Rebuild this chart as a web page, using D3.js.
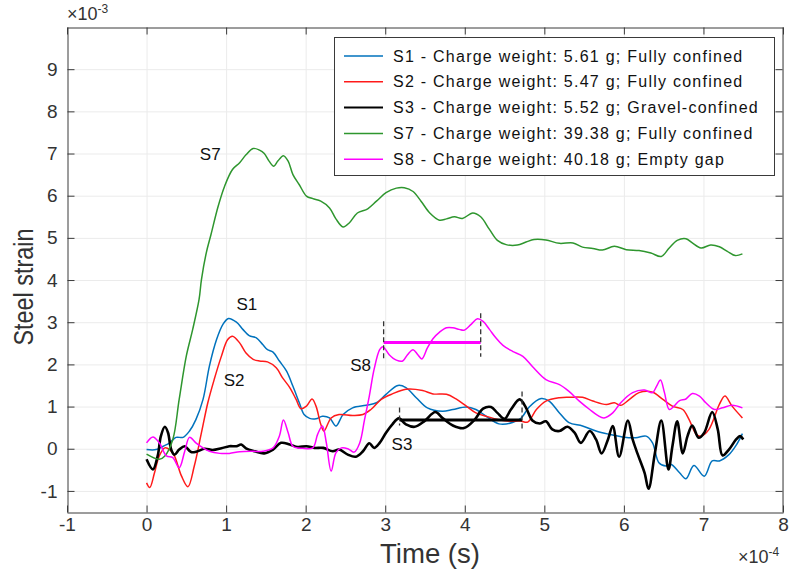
<!DOCTYPE html>
<html>
<head>
<meta charset="utf-8">
<script src="https://cdn.jsdelivr.net/npm/d3@7"></script>
<style>
  html, body { margin: 0; padding: 0; background: #fff; }
  svg { display: block; font-family: "Liberation Sans", Arial, sans-serif; }
</style>
</head>
<body>
<svg id="chart" width="790" height="574"></svg>
<script>
// Time in units of 1e-4 s, strain in units of 1e-3
const xTicks = [-1, 0, 1, 2, 3, 4, 5, 6, 7, 8];
const yTicks = [-1, 0, 1, 2, 3, 4, 5, 6, 7, 8, 9];

const s1 = [[0,-0.02],[0.12,-0.02],[0.21,0.06],[0.29,0.14],[0.37,0.27],[0.46,0.27],[0.54,0.42],[0.62,0.69],[0.71,1.17],[0.79,1.96],[0.88,2.59],[0.96,2.95],[1.03,3.09],[1.13,3.0],[1.21,2.83],[1.29,2.68],[1.38,2.63],[1.46,2.47],[1.52,2.35],[1.59,2.29],[1.67,2.08],[1.76,1.84],[1.84,1.48],[1.92,1.09],[1.98,0.81],[2.05,0.72],[2.13,0.71],[2.21,0.77],[2.30,0.73],[2.38,0.54],[2.47,0.81],[2.59,0.97],[2.76,1.03],[2.89,1.09],[3.01,1.29],[3.16,1.50],[3.26,1.45],[3.39,1.21],[3.53,0.97],[3.72,0.89],[3.85,0.93],[4.02,0.99],[4.14,0.93],[4.27,0.77],[4.43,0.59],[4.60,0.62],[4.71,0.73],[4.81,0.99],[4.96,1.19],[5.06,1.13],[5.19,0.85],[5.31,0.62],[5.48,0.54],[5.65,0.42],[5.82,0.34],[5.98,0.28],[6.15,0.26],[6.28,0.30],[6.36,0.14],[6.44,-0.33],[6.53,-0.41],[6.59,-0.37],[6.70,-0.57],[6.78,-0.71],[6.88,-0.40],[7.01,-0.65],[7.11,-0.29],[7.20,-0.29],[7.32,-0.14],[7.41,0.08],[7.49,0.36]];

const s2 = [[0,-0.81],[0.04,-0.92],[0.10,-0.57],[0.16,-0.17],[0.23,0.02],[0.29,-0.02],[0.35,-0.17],[0.44,-0.65],[0.52,-0.90],[0.60,-0.41],[0.69,0.38],[0.77,1.09],[0.85,1.64],[0.94,2.19],[1.02,2.59],[1.08,2.67],[1.17,2.51],[1.25,2.27],[1.34,2.12],[1.42,2.08],[1.52,2.06],[1.63,1.92],[1.71,1.68],[1.80,1.45],[1.88,1.17],[1.94,0.95],[2.01,1.01],[2.08,1.18],[2.13,1.01],[2.19,0.58],[2.23,0.42],[2.32,0.73],[2.42,0.81],[2.59,0.79],[2.72,0.81],[2.82,0.93],[2.95,1.17],[3.09,1.30],[3.26,1.41],[3.47,1.38],[3.60,1.30],[3.77,1.29],[3.89,1.18],[4.02,1.01],[4.14,0.85],[4.27,0.77],[4.43,0.69],[4.60,0.65],[4.70,0.66],[4.79,0.63],[4.90,0.93],[5.02,1.13],[5.19,1.21],[5.31,1.22],[5.48,1.22],[5.61,1.13],[5.78,1.05],[5.88,1.09],[5.96,1.03],[6.07,1.17],[6.19,1.33],[6.36,1.34],[6.49,1.17],[6.61,1.01],[6.74,0.93],[6.82,0.69],[6.91,0.34],[6.97,0.30],[7.07,0.46],[7.20,1.05],[7.27,1.25],[7.36,1.01],[7.49,0.73]];

const s3 = [[0,-0.25],[0.08,-0.49],[0.14,-0.17],[0.18,0.30],[0.23,0.52],[0.27,0.38],[0.31,-0.02],[0.35,-0.14],[0.41,-0.02],[0.48,0.06],[0.56,-0.08],[0.64,-0.06],[0.73,0],[0.83,-0.03],[0.94,0.01],[1.04,0.06],[1.13,0.06],[1.19,0.10],[1.25,0.01],[1.36,-0.06],[1.48,-0.11],[1.59,-0.02],[1.69,0.14],[1.80,0.10],[1.90,0.04],[2.01,0.06],[2.11,0.02],[2.22,0.02],[2.34,-0.06],[2.42,-0.02],[2.53,-0.14],[2.63,-0.19],[2.72,-0.06],[2.80,0.13],[2.86,0.02],[2.93,0.14],[3.01,0.38],[3.09,0.58],[3.17,0.72],[3.26,0.58],[3.37,0.52],[3.49,0.65],[3.63,0.87],[3.72,0.73],[3.85,0.55],[3.99,0.49],[4.12,0.68],[4.23,0.95],[4.33,0.99],[4.41,0.85],[4.50,0.71],[4.58,0.93],[4.69,1.17],[4.77,0.97],[4.85,0.67],[4.94,0.60],[5.02,0.65],[5.10,0.46],[5.19,0.42],[5.29,0.52],[5.38,0.38],[5.46,0.14],[5.57,0.42],[5.65,0.22],[5.72,-0.11],[5.80,0.22],[5.86,0.54],[5.94,-0.19],[6.05,0.67],[6.11,0.22],[6.17,-0.11],[6.26,-0.57],[6.31,-0.95],[6.39,-0.10],[6.47,0.67],[6.56,-0.49],[6.61,0.06],[6.67,0.65],[6.74,-0.11],[6.80,0.30],[6.86,0.55],[6.94,0.26],[7.01,0.38],[7.11,0.87],[7.18,0.46],[7.24,-0.16],[7.32,-0.02],[7.41,0.22],[7.46,0.30],[7.50,0.22]];

const s7 = [[0,-0.13],[0.16,-0.25],[0.23,-0.17],[0.33,0.22],[0.41,1.17],[0.5,2.2],[0.58,2.83],[0.66,3.54],[0.69,4.01],[0.75,4.64],[0.81,5.08],[0.90,5.75],[0.98,6.22],[1.08,6.62],[1.17,6.78],[1.25,6.97],[1.34,7.12],[1.42,7.08],[1.48,7.0],[1.54,6.82],[1.60,6.70],[1.65,6.82],[1.72,6.95],[1.78,6.82],[1.84,6.5],[1.92,6.26],[2.01,5.99],[2.09,5.93],[2.19,5.87],[2.30,5.71],[2.38,5.45],[2.47,5.26],[2.55,5.36],[2.65,5.59],[2.78,5.69],[2.89,5.87],[3.01,6.07],[3.14,6.18],[3.24,6.19],[3.35,6.10],[3.45,5.87],[3.56,5.59],[3.68,5.42],[3.77,5.45],[3.87,5.50],[3.97,5.46],[4.10,5.59],[4.20,5.50],[4.31,5.20],[4.41,4.94],[4.52,4.84],[4.66,4.83],[4.77,4.90],[4.87,4.96],[5.02,4.95],[5.19,4.87],[5.36,4.88],[5.48,4.78],[5.61,4.75],[5.73,4.71],[5.88,4.80],[6.03,4.72],[6.19,4.70],[6.34,4.64],[6.47,4.56],[6.57,4.76],[6.67,4.94],[6.78,4.98],[6.86,4.88],[6.97,4.76],[7.09,4.83],[7.20,4.79],[7.30,4.68],[7.40,4.58],[7.49,4.62]];

const s8 = [[0,0.14],[0.08,0.28],[0.16,0.14],[0.25,-0.17],[0.33,-0.21],[0.41,-0.45],[0.48,-0.06],[0.54,0.27],[0.62,0.14],[0.71,0.02],[0.79,-0.06],[0.92,-0.11],[1.04,-0.11],[1.17,-0.07],[1.34,-0.06],[1.46,-0.06],[1.59,0.02],[1.67,0.30],[1.72,0.68],[1.78,0.38],[1.84,0.06],[1.96,0.01],[2.09,0.02],[2.15,0.34],[2.21,0.54],[2.26,0.14],[2.32,-0.53],[2.38,-0.1],[2.45,0.02],[2.53,0],[2.61,-0.08],[2.68,0.14],[2.74,0.69],[2.80,1.25],[2.86,1.88],[2.93,2.35],[2.97,2.42],[3.05,2.23],[3.14,2.10],[3.22,2.08],[3.28,2.23],[3.35,2.35],[3.41,2.23],[3.46,2.13],[3.53,2.39],[3.60,2.61],[3.68,2.76],[3.77,2.87],[3.85,2.87],[3.93,2.83],[3.99,2.81],[4.08,2.95],[4.16,3.08],[4.23,3.02],[4.31,2.83],[4.39,2.63],[4.48,2.45],[4.60,2.31],[4.73,2.19],[4.85,1.95],[5.02,1.64],[5.19,1.52],[5.31,1.36],[5.44,1.13],[5.57,0.93],[5.67,0.79],[5.75,0.73],[5.86,0.85],[5.96,1.09],[6.11,1.33],[6.26,1.39],[6.36,1.33],[6.41,1.48],[6.46,1.63],[6.51,1.33],[6.57,0.93],[6.63,1.01],[6.70,1.14],[6.78,1.18],[6.86,1.31],[6.95,1.25],[7.03,1.09],[7.14,0.93],[7.24,0.97],[7.36,1.03],[7.49,0.97]];

const seriesNames = [
  "S1 - Charge weight: 5.61 g; Fully confined",
  "S2 - Charge weight: 5.47 g; Fully confined",
  "S3 - Charge weight: 5.52 g; Gravel-confined",
  "S7 - Charge weight: 39.38 g; Fully confined",
  "S8 - Charge weight: 40.18 g; Empty gap"
];
const seriesColors = ["#0072BD", "#FF1A1A", "#000000", "#2E962E", "#FF00FF"];
const seriesWidths = [1.5, 1.5, 2.6, 1.5, 1.5];
const seriesData = [s1, s2, s3, s7, s8];

// Plateau spans: start, end, level
const plateaus = [
  { color: "#FF00FF", from: 2.98, to: 4.20, level: 2.52 },
  { color: "#000000", from: 3.18, to: 4.72, level: 0.68 }
];
// Dashed markers: [time, low, high]
const markers = [[2.98, 2.09, 3.02], [4.20, 2.18, 3.21], [3.18, 0.55, 0.98], [4.72, 0.41, 1.36]];
// Curve tags: [text, time, strain]
const tags = [["S7", 0.67, 6.84], ["S1", 1.13, 3.29], ["S2", 0.97, 1.49], ["S8", 2.56, 1.84], ["S3", 3.08, -0.03]];

const svg = d3.select("#chart");
const W = 790, H = 574;
const margin = { left: 67, right: 7, top: 27, bottom: 62 };
const x = d3.scaleLinear().domain([-1, 8]).range([margin.left, W - margin.right]);
const y = d3.scaleLinear().domain([-1.5, 10]).range([H - margin.bottom, margin.top]);
const axisColor = "#3a3a3a";
const tickLen = 7;
const plainFormat = d => String(d);

svg.append("rect").attr("x", 0).attr("y", 0).attr("width", W).attr("height", H).attr("fill", "#fff");

// grid
const grid = svg.append("g").attr("stroke", "#ebebeb").attr("stroke-width", 1);
grid.selectAll("line.gx").data(xTicks.slice(1)).join("line")
  .attr("x1", d => x(d) + 0.5).attr("x2", d => x(d) + 0.5)
  .attr("y1", y.range()[1]).attr("y2", y.range()[0]);
grid.selectAll("line.gy").data(yTicks).join("line")
  .attr("y1", d => y(d) + 0.5).attr("y2", d => y(d) + 0.5)
  .attr("x1", x.range()[0]).attr("x2", x.range()[1]);

// axes (inward ticks, mirrored on top and right)
const gx = svg.append("g").attr("transform", `translate(0,${y.range()[0] + 0.5})`)
  .call(d3.axisBottom(x).tickValues(xTicks).tickFormat(plainFormat).tickSize(-tickLen).tickPadding(5).tickSizeOuter(0));
const gy = svg.append("g").attr("transform", `translate(${x.range()[0] + 0.5},0)`)
  .call(d3.axisLeft(y).tickValues(yTicks).tickFormat(plainFormat).tickSize(-tickLen).tickPadding(10).tickSizeOuter(0));
const gxt = svg.append("g").attr("transform", `translate(0,${y.range()[1] + 0.5})`)
  .call(d3.axisTop(x).tickValues(xTicks).tickSize(-tickLen).tickFormat("").tickSizeOuter(0));
const gyr = svg.append("g").attr("transform", `translate(${x.range()[1] - 0.5},0)`)
  .call(d3.axisRight(y).tickValues(yTicks).tickSize(-tickLen).tickFormat("").tickSizeOuter(0));
[gx, gy, gxt, gyr].forEach(g => {
  g.select(".domain").attr("stroke", axisColor);
  g.selectAll(".tick line").attr("stroke", axisColor);
  g.selectAll(".tick text").attr("fill", "#333").attr("font-size", 19)
    .attr("font-family", "'Liberation Sans', Arial, sans-serif");
});

// clip for curves
svg.append("clipPath").attr("id", "plotClip").append("rect")
  .attr("x", x.range()[0]).attr("y", y.range()[1])
  .attr("width", x.range()[1] - x.range()[0]).attr("height", y.range()[0] - y.range()[1]);

const line = d3.line().x(d => x(d[0])).y(d => y(d[1])).curve(d3.curveCatmullRom.alpha(0.5));
const plot = svg.append("g").attr("clip-path", "url(#plotClip)");
seriesData.forEach((data, i) => {
  plot.append("path").datum(data)
    .attr("fill", "none").attr("stroke", seriesColors[i])
    .attr("stroke-width", seriesWidths[i]).attr("stroke-linejoin", "round")
    .attr("d", line);
});

// plateau bars and dashed markers
plot.selectAll("line.plateau").data(plateaus).join("line")
  .attr("x1", d => x(d.from)).attr("x2", d => x(d.to))
  .attr("y1", d => y(d.level)).attr("y2", d => y(d.level))
  .attr("stroke", d => d.color).attr("stroke-width", 3);
plot.selectAll("line.marker").data(markers).join("line")
  .attr("x1", d => x(d[0])).attr("x2", d => x(d[0]))
  .attr("y1", d => y(d[2])).attr("y2", d => y(d[1]))
  .attr("stroke", "#333").attr("stroke-width", 1.3).attr("stroke-dasharray", "5,3");

// curve tags
svg.selectAll("text.tag").data(tags).join("text")
  .attr("x", d => x(d[1])).attr("y", d => y(d[2]))
  .attr("font-size", 17).attr("fill", "#111").text(d => d[0]);

// legend
const lg = svg.append("g");
lg.append("rect").attr("x", 334.5).attr("y", 37.5).attr("width", 440).attr("height", 138)
  .attr("fill", "#fff").attr("stroke", "#3a3a3a").attr("stroke-width", 1);
seriesNames.forEach((name, i) => {
  const cy = 56 + i * 25.8;
  lg.append("line").attr("x1", 344).attr("x2", 383).attr("y1", cy).attr("y2", cy)
    .attr("stroke", seriesColors[i]).attr("stroke-width", i === 2 ? 2 : 1.5);
  lg.append("text").attr("x", 393).attr("y", cy).attr("dy", "0.35em")
    .attr("font-size", 16).attr("letter-spacing", 1.25).attr("fill", "#111").text(name);
});

// axis titles
svg.append("text").attr("x", 430).attr("y", 563).attr("text-anchor", "middle")
  .attr("font-size", 28).attr("fill", "#333")
  .attr("textLength", 100).attr("lengthAdjust", "spacingAndGlyphs").text("Time (s)");
svg.append("text").attr("transform", "translate(33,287) rotate(-90)").attr("text-anchor", "middle")
  .attr("font-size", 28).attr("fill", "#333")
  .attr("textLength", 117).attr("lengthAdjust", "spacingAndGlyphs").text("Steel strain");

// exponent labels
const expTop = svg.append("text").attr("x", 67).attr("y", 20).attr("font-size", 18).attr("fill", "#333");
expTop.append("tspan").text("×10");
expTop.append("tspan").attr("font-size", 12).attr("dy", -7).text("-3");
const expBot = svg.append("text").attr("x", 738).attr("y", 563).attr("font-size", 18).attr("fill", "#333");
expBot.append("tspan").text("×10");
expBot.append("tspan").attr("font-size", 12).attr("dy", -7).text("-4");
</script>
</body>
</html>
